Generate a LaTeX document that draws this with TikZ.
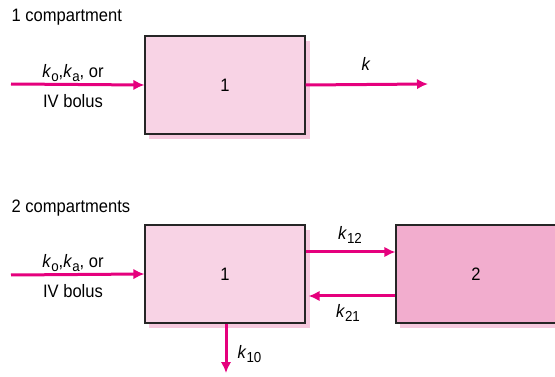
\documentclass[tikz,border=0pt]{standalone}
\usepackage{fontspec}
\setmainfont{Liberation Sans}[FakeStretch=0.92]
\usetikzlibrary{arrows.meta}
\definecolor{lightpink}{HTML}{F8D3E5}
\definecolor{shadowpink}{HTML}{F6C9DE}
\definecolor{darkpink}{HTML}{F2ADCE}
\definecolor{ratepink}{HTML}{E5007D}
\newcommand{\rk}[1]{\textit{k}\raisebox{-4pt}{\fontsize{14.5}{15}\selectfont #1}}

\begin{document}
\begin{tikzpicture}[x=1pt,y=-1pt,font=\fontsize{18}{20}\selectfont,
    comp/.style={draw=black!85,line width=1.1pt,minimum width=160pt,minimum height=98pt,inner sep=0pt},
    shade/.style={fill=shadowpink},
    rate/.style={ratepink,line width=3pt,-{Latex[length=11pt,width=10.5pt]}}]
    \clip (0,0) rectangle (555,377);
    % one compartment
    \node[anchor=base west] (title1) at (8,22) {1 compartment};
    \fill[shade] (149,41) rectangle (310,139);
    \node[comp,fill=lightpink] (one) at (225,85) {1};
    \coordinate (in1) at (11,84);
    \coordinate (out1) at (428,84);
    \draw[rate] (in1) -- (one.west);
    \draw[rate] (one.east) -- (out1);
    \node[anchor=base] (dose1) at (73,78) {\rk{o},\rk{a}, or};
    \node[anchor=base] (bolus1) at (73,108) {IV bolus};
    \node[anchor=base] (kel) at (366,71) {\textit{k}};
    % two compartments
    \node[anchor=base west] (title2) at (8,213) {2 compartments};
    \fill[shade] (149,230) rectangle (310,328);
    \fill[shade] (400,230) rectangle (560,328);
    \node[comp,fill=lightpink] (central) at (225,274) {1};
    \node[comp,fill=darkpink] (periph) at (476,274) {2};
    \coordinate (in2) at (11,275);
    \coordinate (out2) at (226,373);
    \draw[rate] (in2) -- (central.west);
    \draw[rate] ([yshift=22pt]central.east) -- ([yshift=22pt]periph.west);
    \draw[rate] ([yshift=-22pt]periph.west) -- ([yshift=-22pt,xshift=3pt]central.east);
    \draw[rate] ([xshift=1pt]central.south) -- (out2);
    \node[anchor=base] (dose2) at (73,268) {\rk{o},\rk{a}, or};
    \node[anchor=base] (bolus2) at (73,298) {IV bolus};
    \node[anchor=base] (k12) at (350,240) {\rk{12}};
    \node[anchor=base] (k21) at (348,317) {\rk{21}};
    \node[anchor=base west] (k10) at (234,358) {\rk{10}};
\end{tikzpicture}
\end{document}
